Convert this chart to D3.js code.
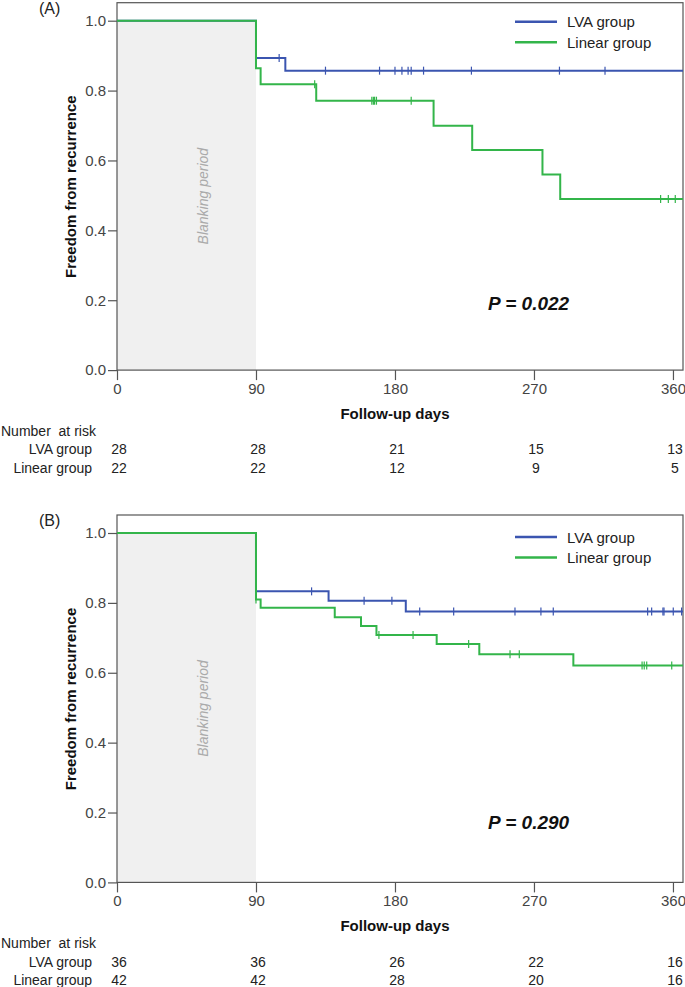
<!DOCTYPE html>
<html>
<head>
<meta charset="utf-8">
<script src="https://cdn.jsdelivr.net/npm/d3@7"></script>
<style>
  html, body { margin: 0; padding: 0; background: #fff; }
  svg { display: block; font-family: "Liberation Sans", Arial, sans-serif; }
</style>
</head>
<body>
<div id="chart"></div>
<script>
// ---------------- DATA ----------------
const groups = ["LVA group", "Linear group"];
const xTicks = [0, 90, 180, 270, 360];
const yTicks = [0, 0.2, 0.4, 0.6, 0.8, 1.0];
const blankingDays = [0, 90];
const panelLabels = ["(A)", "(B)"];
const pValues = ["P = 0.022", "P = 0.290"];

// Panel A – Kaplan-Meier steps (time of event, survival after event) and censored times
const aLvaTimes = [0, 90, 109];
const aLvaSurv = [1.0, 0.893, 0.857];
const aLvaCensor = [105, 135, 170, 180, 184.5, 188.5, 190.5, 198.5, 229.5, 286.5, 316];
const aLinTimes = [0, 90, 93, 129, 205, 230, 275.5, 287];
const aLinSurv = [1.0, 0.864, 0.818, 0.771, 0.699, 0.630, 0.560, 0.490];
const aLinCensor = [128, 165, 166, 166.8, 168, 190.5, 352, 357, 361.5];
const aRiskLva = [28, 28, 21, 15, 13];
const aRiskLin = [22, 22, 12, 9, 5];

// Panel B
const bLvaTimes = [0, 90, 137, 187];
const bLvaSurv = [1.0, 0.833, 0.806, 0.775];
const bLvaCensor = [126, 160, 178, 196, 218, 257.7, 274.5, 282.5, 343.6, 346.2, 353.5, 354.2, 360.2, 365.6];
const bLinTimes = [0, 90, 93, 141, 158, 168, 207, 234.6, 295.5];
const bLinSurv = [1.0, 0.810, 0.786, 0.759, 0.734, 0.708, 0.682, 0.653, 0.621];
const bLinCensor = [90, 169.6, 191.7, 227.7, 254.5, 260.5, 340, 341.4, 343, 359.2];
const bRiskLva = [36, 36, 26, 22, 16];
const bRiskLin = [42, 42, 28, 20, 16];

// ---------------- LAYOUT ----------------
const W = 685, H = 987;
const colors = ["#3b55b0", "#33b54a"];
const xMax = 366.5;
const panels = [
  { top: 2.7, label: panelLabels[0], p: pValues[0], pY: 307, legY: 19,
    series: [[aLvaTimes, aLvaSurv, aLvaCensor], [aLinTimes, aLinSurv, aLinCensor]],
    risk: [aRiskLva, aRiskLin] },
  { top: 515, label: panelLabels[1], p: pValues[1], pY: 314, legY: 22,
    series: [[bLvaTimes, bLvaSurv, bLvaCensor], [bLinTimes, bLinSurv, bLinCensor]],
    risk: [bRiskLva, bRiskLin] }
];

const svg = d3.select("#chart").append("svg").attr("width", W).attr("height", H);

function survAt(times, surv, t) {
  let v = surv[0];
  for (let i = 0; i < times.length; i++) if (times[i] <= t) v = surv[i];
  return v;
}

panels.forEach(P => {
  const g = svg.append("g");
  const x = d3.scaleLinear().domain([0, xMax]).range([117, 683]);
  const y = d3.scaleLinear().domain([0, 1]).range([P.top + 367.4, P.top + 18]);
  const bottom = y(0);

  // blanking period shading
  g.append("rect")
    .attr("x", x(blankingDays[0])).attr("y", y(1))
    .attr("width", x(blankingDays[1]) - x(blankingDays[0]))
    .attr("height", y(0) - y(1))
    .attr("fill", "#f0f0f0");
  g.append("text")
    .attr("transform", `translate(${x(45) + 17},${P.top + 193.5}) rotate(-90)`)
    .attr("text-anchor", "middle").attr("dominant-baseline", "central")
    .attr("font-size", 14).attr("font-style", "italic").attr("fill", "#aaaaaa")
    .text("Blanking period");

  // frame
  g.append("rect")
    .attr("x", 117).attr("y", P.top).attr("width", 683 - 117).attr("height", bottom - P.top)
    .attr("fill", "none").attr("stroke", "#555").attr("stroke-width", 1.2);

  // axes
  const ya = g.append("g").attr("transform", "translate(117,0)")
    .call(d3.axisLeft(y).tickValues(yTicks).tickFormat(d3.format(".1f")).tickSize(9).tickPadding(2));
  const xa = g.append("g").attr("transform", `translate(0,${bottom})`)
    .call(d3.axisBottom(x).tickValues(xTicks).tickSize(10).tickPadding(3));
  [ya, xa].forEach(a => {
    a.select(".domain").remove();
    a.selectAll("line").attr("stroke", "#555").attr("stroke-width", 1.2);
    a.selectAll("text").attr("font-size", 15).attr("fill", "#444")
      .attr("font-family", "'Liberation Sans', Arial, sans-serif");
  });

  // axis titles
  g.append("text")
    .attr("transform", `translate(70,${P.top + 184}) rotate(-90)`)
    .attr("text-anchor", "middle").attr("dominant-baseline", "central")
    .attr("font-size", 15).attr("font-weight", "bold").attr("fill", "#111")
    .text("Freedom from recurrence");
  g.append("text")
    .attr("x", x(180)).attr("y", bottom + 49)
    .attr("text-anchor", "middle")
    .attr("font-size", 15).attr("font-weight", "bold").attr("fill", "#111")
    .text("Follow-up days");

  // panel label
  g.append("text").attr("x", 39).attr("y", P.top + 11)
    .attr("font-size", 16).attr("fill", "#222").text(P.label);

  // curves
  const line = d3.line().x(d => x(d[0])).y(d => y(d[1])).curve(d3.curveStepAfter);
  P.series.forEach((s, i) => {
    const [times, surv, cens] = s;
    const pts = times.map((t, k) => [t, surv[k]]);
    pts.push([xMax, surv[surv.length - 1]]);
    g.append("path").datum(pts)
      .attr("d", line).attr("fill", "none")
      .attr("stroke", colors[i]).attr("stroke-width", 2);
    g.selectAll(null).data(cens).enter().append("line")
      .attr("x1", d => x(d)).attr("x2", d => x(d))
      .attr("y1", d => y(survAt(times, surv, d)) - 4)
      .attr("y2", d => y(survAt(times, surv, d)) + 4)
      .attr("stroke", colors[i]).attr("stroke-width", 1.2);
  });

  // legend
  groups.forEach((name, i) => {
    const ly = P.top + P.legY + i * 20.6;
    g.append("line").attr("x1", 515).attr("x2", 557).attr("y1", ly).attr("y2", ly)
      .attr("stroke", colors[i]).attr("stroke-width", 2.5);
    g.append("text").attr("x", 567).attr("y", ly + 5.5)
      .attr("font-size", 15).attr("fill", "#222").text(name);
  });

  // p value
  g.append("text").attr("x", 488).attr("y", P.top + P.pY)
    .attr("font-size", 19).attr("font-weight", "bold").attr("font-style", "italic")
    .attr("fill", "#111").text(P.p);

  // number at risk table
  const t0 = bottom + 61;
  g.append("text").attr("x", 1).attr("y", t0 + 5)
    .attr("font-size", 14).attr("fill", "#222").attr("xml:space", "preserve")
    .text("Number  at risk");
  groups.forEach((name, i) => {
    const ry = t0 + 18.3 * (i + 1) + 5;
    g.append("text").attr("x", 92).attr("y", ry).attr("text-anchor", "end")
      .attr("font-size", 14).attr("fill", "#222").text(name);
    g.selectAll(null).data(P.risk[i]).enter().append("text")
      .attr("x", (d, k) => x(xTicks[k]) + 2).attr("y", ry)
      .attr("text-anchor", "middle").attr("font-size", 14).attr("fill", "#222")
      .text(d => d);
  });
});
</script>
</body>
</html>
